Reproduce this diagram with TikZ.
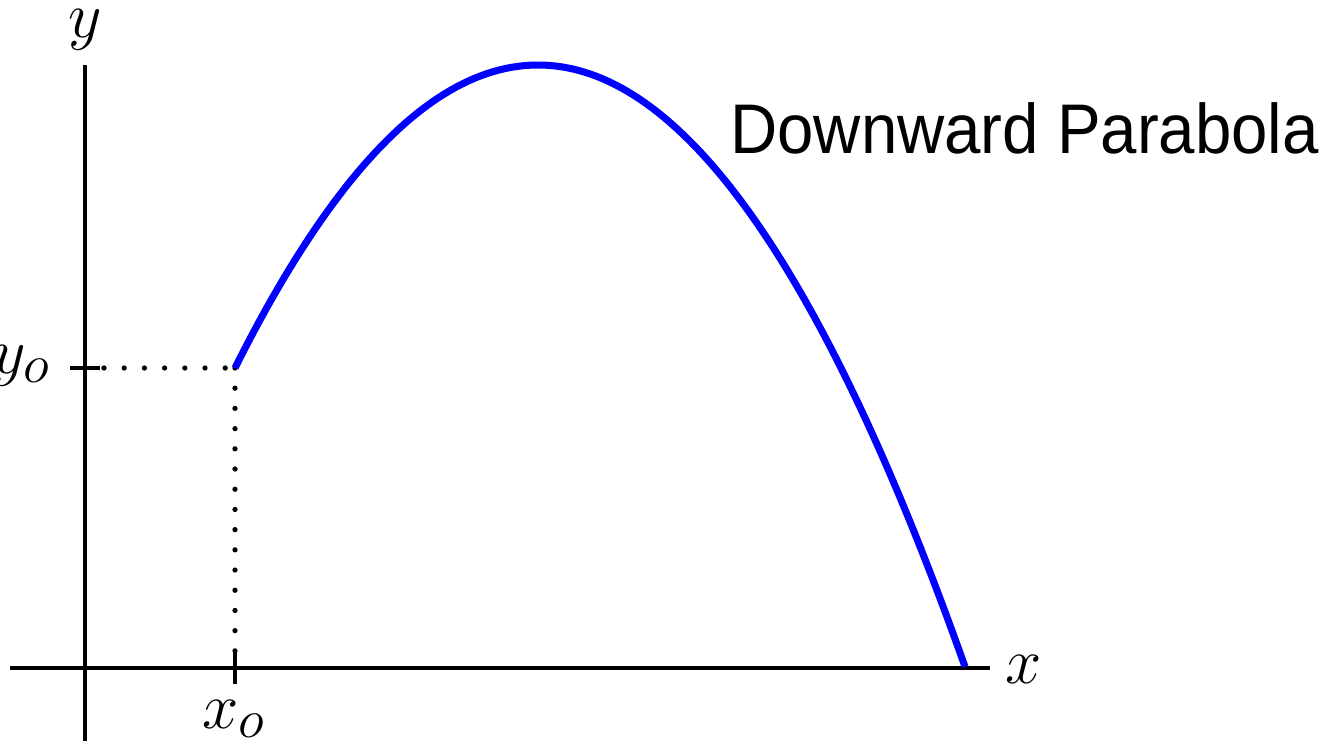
\documentclass[tikz,border=0pt]{standalone}
\usepackage{fontspec}
\newfontfamily\labelfont{Liberation Sans}
\begin{document}
\begin{tikzpicture}[x=0.02cm,y=-0.02cm,
  axis/.style={line width=2.3pt},
  tickline/.style={line width=2.3pt},
  guide/.style={line width=3pt,line cap=round,dash pattern=on 0pt off 11.5pt},
  curve/.style={blue,line width=4pt},
  mathlabel/.style={font=\fontsize{24.88}{28}\selectfont,inner sep=0pt,scale=1.49},
  title/.style={font=\labelfont\fontsize{40}{44}\selectfont,inner sep=0pt,xscale=0.93}]
\useasboundingbox (0,0) rectangle (1320,741);
% coordinates
\coordinate (ybot) at (85,741);
\coordinate (ytop) at (85,65);
\coordinate (xl) at (10,668);
\coordinate (xr) at (990,668);
\coordinate (yot1) at (70,368);
\coordinate (yot2) at (100,368);
\coordinate (xot1) at (235,652);
\coordinate (xot2) at (235,684);
\coordinate (P) at (235,368);
% axes
\draw[axis] (ybot) -- (ytop);
\draw[axis] (xl) -- (xr);
\draw[tickline] (yot1) -- (yot2);
\draw[tickline] (xot1) -- (xot2);
% guides
\draw[guide] (yot2) ++(4,0) -- (P);
\draw[guide] (P) -- (xot1);
% curve
\draw[curve] plot[domain=235:965,samples=120] (\x,{65+33*((\x-538)/100)^2});
% labels
\node[mathlabel] (ylab) at (85,30) {$y$};
\node[mathlabel] (xlab) at (1024,669) {$x$};
\node[mathlabel,anchor=base east] (yolab) at (51,373) {$y_o$};
\node[mathlabel,anchor=base] (xolab) at (234,728) {$x_o$};
\node[title,anchor=base west] (ttl) at (730,153) {Downward Parabola};
\end{tikzpicture}
\end{document}
